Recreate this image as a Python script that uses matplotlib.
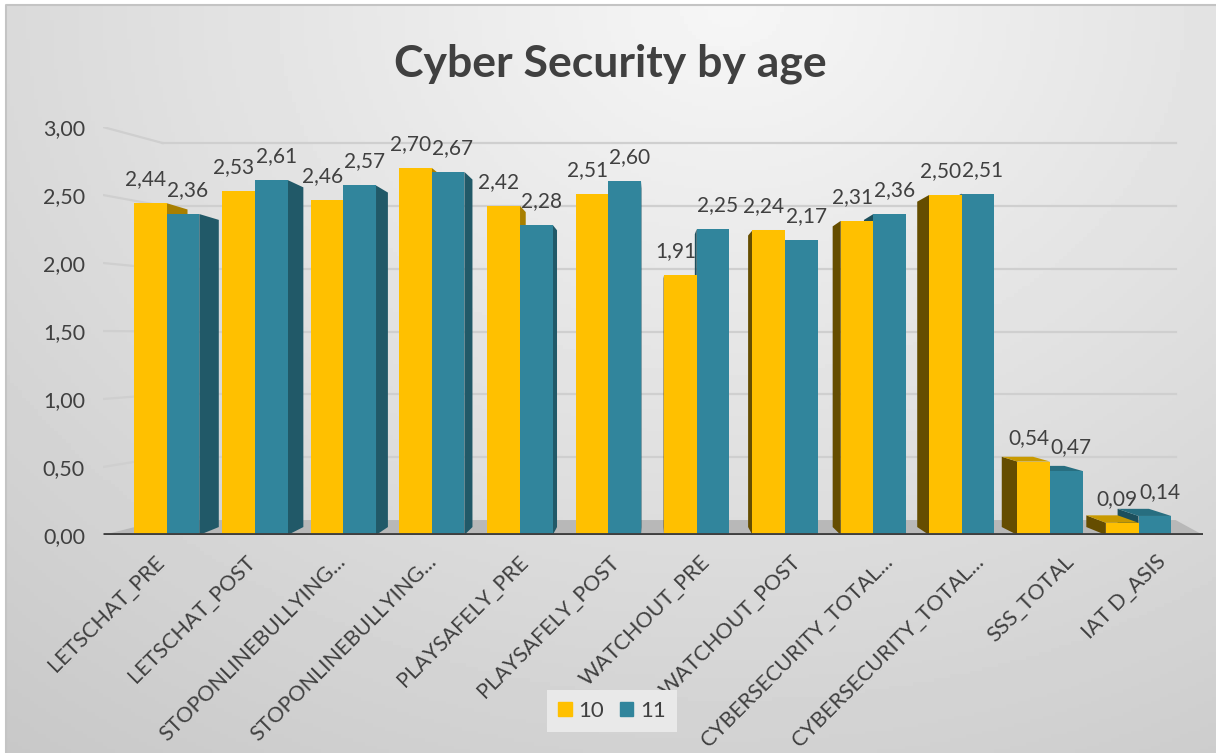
import numpy as np
import matplotlib.pyplot as plt
from matplotlib.patches import Rectangle
from matplotlib.transforms import ScaledTranslation

plt.rcParams['font.family'] = ['Lato', 'DejaVu Sans']

categories = ['LETSCHAT_PRE', 'LETSCHAT_POST', 'STOPONLINEBULLYING...', 'STOPONLINEBULLYING...',
              'PLAYSAFELY_PRE', 'PLAYSAFELY_POST', 'WATCHOUT_PRE', 'WATCHOUT_POST',
              'CYBERSECURITY_TOTAL...', 'CYBERSECURITY_TOTAL...', 'SSS_TOTAL', 'IAT D_ASIS']
age_10 = [2.44, 2.53, 2.46, 2.70, 2.42, 2.51, 1.91, 2.24, 2.31, 2.50, 0.54, 0.09]
age_11 = [2.36, 2.61, 2.57, 2.67, 2.28, 2.60, 2.25, 2.17, 2.36, 2.51, 0.47, 0.14]
series_names = ['10', '11']
y_ticks = [0, 0.5, 1.0, 1.5, 2.0, 2.5, 3.0]

YELLOW = '#FFC000'
TEAL = '#31859C'
TEXT = '#404040'

# fake 3d: faces recede toward a vanishing point (data coords)
VP = (5.5, 1.36)
K = 0.043
XMIN, XMAX = -0.72, 11.73
BAR_W = 0.37


def back(x, y):
    return x + K * (VP[0] - x), y + K * (VP[1] - y)


def draw_bar(ax, x0, h, color, side_color, top_color):
    x1 = x0 + BAR_W
    # side face on the vanishing point side
    xs = x1 if x1 < VP[0] else x0
    b0 = back(xs, 0)
    b1 = back(xs, h)
    ax.fill([xs, xs, b1[0], b0[0]], [0, h, b1[1], b0[1]], color=side_color, lw=0, zorder=3)
    if h < VP[1]:
        t0 = back(x0, h)
        t1 = back(x1, h)
        ax.fill([x0, x1, t1[0], t0[0]], [h, h, t1[1], t0[1]], color=top_color, lw=0, zorder=3)
    ax.bar(x0, h, width=BAR_W, align='edge', color=color, lw=0, zorder=3)


fig = plt.figure(figsize=(12.16, 7.53), dpi=100)

# background panel with soft gradient
bg = fig.add_axes([0, 0, 1, 1], zorder=-5)
gx, gy = np.meshgrid(np.linspace(0, 1, 300), np.linspace(0, 1, 200))
r = np.sqrt(((gx - 0.6) / 0.8) ** 2 + ((1 - gy) / 1.05) ** 2)
shade = np.clip(0.965 - 0.15 * r, 0, 1)
left = 6 / 1216
bg.imshow(shade, cmap='gray', vmin=0, vmax=1, origin='lower',
          extent=[left, 1, 0, 1 - 5 / 753], aspect='auto')
bg.plot([left, left, 1.01], [-0.01, 1 - 5 / 753, 1 - 5 / 753], color='#c4c4c4', lw=1.5)
bg.set_xlim(0, 1)
bg.set_ylim(0, 1)
bg.axis('off')

ax = fig.add_axes([103 / 1216, 1 - 535 / 753, 1100 / 1216, 408 / 753])
ax.patch.set_visible(False)
ax.set_xlim(XMIN, XMAX)
ax.set_ylim(0, 3)
for s in ax.spines.values():
    s.set_visible(False)

# walls: left wall ticks and back wall gridlines
wall_l, wall_r = -0.045, 11.42
for v in y_ticks[1:]:
    yb = 0.110 + 0.924 * v
    ax.plot([XMIN, wall_l], [v, yb], color='#cfcfcf', lw=1.6, zorder=1)
    ax.plot([wall_l, wall_r], [yb, yb], color='#cfcfcf', lw=1.6, zorder=1)

# floor
ax.fill([XMIN, wall_l, wall_r, XMAX], [0, 0.11, 0.11, 0], color='#b8b8b8', lw=0, zorder=2)
ax.plot([XMIN, XMAX], [0, 0], color='#3f3f3f', lw=3.5, zorder=4, solid_capstyle='butt')

x = np.arange(len(categories))
for i in x:
    y0 = i - BAR_W
    y1 = i
    if i + 0.2 < VP[0]:
        draw_bar(ax, y0, age_10[i], YELLOW, '#a87f00', '#d9a300')
        draw_bar(ax, y1, age_11[i], TEAL, '#215968', '#276e80')
    else:
        draw_bar(ax, y1, age_11[i], TEAL, '#1d4f5c', '#276e80')
        draw_bar(ax, y0, age_10[i], YELLOW, '#654d00', '#c99a00')

for xs, vals, dx in ((x - BAR_W / 2, age_10, -3.5), (x + BAR_W / 2, age_11, 3.5)):
    for xi, v in zip(xs, vals):
        ax.annotate(f'{v:.2f}'.replace('.', ','), (xi, v), xytext=(dx, 10),
                    textcoords='offset points', ha='center', va='bottom',
                    fontsize=15, color=TEXT, zorder=6)

ax.set_yticks(y_ticks)
ax.set_yticklabels([f'{v:.2f}'.replace('.', ',') for v in y_ticks], fontsize=15.5, color=TEXT)
ax.set_xticks(x)
ax.set_xticklabels(categories, rotation=45, ha='right', va='center',
                   rotation_mode='anchor', fontsize=15.5, color=TEXT)
ax.tick_params(axis='both', length=0)
ax.tick_params(axis='y', pad=13)
ax.tick_params(axis='x', pad=17)
# labels drift outward with the perspective of the floor edge
for i, lbl in enumerate(ax.get_xticklabels()):
    shift = ScaledTranslation((-6 + 2.7 * i) / 72 * 0.72, 0, fig.dpi_scale_trans)
    lbl.set_transform(lbl.get_transform() + shift)

fig.text(0.502, 0.916, 'Cyber Security by age', ha='center', va='center',
         fontsize=32, fontweight='bold', color=TEXT)

handles = [Rectangle((0, 0), 1, 1, color=YELLOW), Rectangle((0, 0), 1, 1, color=TEAL)]
leg = fig.legend(handles, series_names, loc='center', bbox_to_anchor=(612 / 1216, 1 - 711 / 753),
                 ncol=2, fontsize=16, frameon=True, handlelength=0.6, handleheight=0.6,
                 handletextpad=0.3, columnspacing=0.7, borderpad=0.5, borderaxespad=0)
leg.get_frame().set_facecolor('#e9e9e9')
leg.get_frame().set_edgecolor('none')
leg.get_frame().set_alpha(1)
leg.get_frame().set_boxstyle('square', pad=0)
for t in leg.get_texts():
    t.set_color(TEXT)

fig.savefig('out.png', dpi=100)
